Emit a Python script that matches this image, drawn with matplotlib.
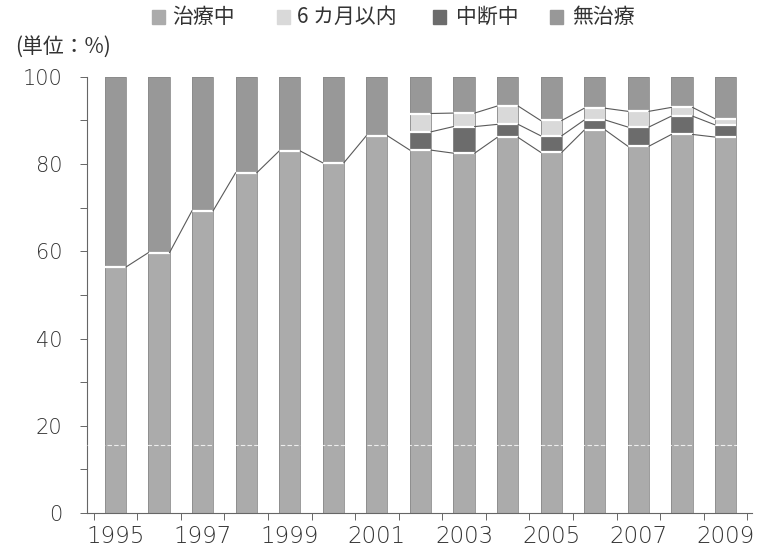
import matplotlib
matplotlib.use("Agg")
import matplotlib.pyplot as plt
from matplotlib.patches import Rectangle
import numpy as np

plt.rcParams['font.family'] = ['Noto Sans CJK JP', 'DejaVu Sans']

years = list(range(1995, 2010))
treating = [56.4, 59.7, 69.3, 78.0, 83.0, 80.3, 86.5, 83.2, 82.5, 86.1, 82.7, 87.8, 84.1, 86.8, 86.2]
interrupted = [0, 0, 0, 0, 0, 0, 0, 4.2, 6.1, 3.0, 3.8, 2.3, 4.4, 4.2, 2.8]
within_6m = [0, 0, 0, 0, 0, 0, 0, 4.2, 3.1, 4.2, 3.5, 2.7, 3.6, 2.0, 1.4]
untreated = [100 - a - b - c for a, b, c in zip(treating, interrupted, within_6m)]

legend_labels = ["治療中", "6 カ月以内", "中断中", "無治療"]
c_treat, c_6m, c_int, c_none = "#ababab", "#d9d9d9", "#6c6c6c", "#989898"
legend_colors = [c_treat, c_6m, c_int, c_none]

fig = plt.figure(figsize=(7.57, 5.57), dpi=100)
ax = fig.add_axes([0.115, 0.079, 0.878, 0.783])

x = np.arange(len(years))
w = 0.485
t = np.array(treating)
i_ = np.array(interrupted)
s = np.array(within_6m)
u = np.array(untreated)

ax.bar(x, t, w, color=c_treat, zorder=2)
ax.bar(x, i_, w, bottom=t, color=c_int, zorder=2)
ax.bar(x, s, w, bottom=t + i_, color=c_6m, zorder=2)
ax.bar(x, u, w, bottom=t + i_ + s, color=c_none, zorder=2)
# thin darker outline on bar sides
ax.bar(x, np.full(len(x), 100.0), w, fill=False, edgecolor="#8a8a8a", lw=0.6, zorder=2.5)

# white separators at segment boundaries and connector lines between bars
levels = [t, t + i_, t + i_ + s]
for k, lev in enumerate(levels):
    for j in range(len(x)):
        if k > 0 and i_[j] == 0 and s[j] == 0:
            continue
        ax.hlines(lev[j], x[j] - w / 2, x[j] + w / 2, color="white", lw=1.6, zorder=3)
    for j in range(len(x) - 1):
        if k > 0 and (i_[j] == 0 and s[j] == 0):
            continue
        ax.plot([x[j] + w / 2, x[j + 1] - w / 2], [lev[j], lev[j + 1]],
                color="#5a5a5a", lw=0.8, zorder=3)

ax.axhline(15.5, color="white", lw=0.8, ls=(0, (4, 2)), alpha=0.8, zorder=3)

ax.set_xlim(-0.65, 14.6)
ax.set_ylim(0, 100)
ax.set_yticks(range(0, 101, 20))
ax.set_yticks(range(10, 100, 20), minor=True)
ax.set_xticks(x[::2])
ax.set_xticklabels([str(y) for y in years[::2]])
ax.set_xticks(np.arange(-0.5, len(years), 1.0), minor=True)
ax.tick_params(axis="x", which="major", length=0, pad=9)
ax.tick_params(axis="x", which="minor", length=5, width=0.7, color="#666666")
ax.tick_params(axis="y", which="both", length=5, width=0.7, color="#666666", pad=13)
for lab in ax.get_xticklabels():
    lab.set_fontfamily("DejaVu Sans")
    lab.set_fontweight("light")
    lab.set_fontsize(16.5)
    lab.set_color("#333333")
for lab in ax.get_yticklabels():
    lab.set_fontfamily("DejaVu Sans")
    lab.set_fontweight("light")
    lab.set_fontsize(15)
    lab.set_color("#333333")
for side in ["top", "right"]:
    ax.spines[side].set_visible(False)
for side in ["left", "bottom"]:
    ax.spines[side].set_color("#666666")
    ax.spines[side].set_linewidth(0.8)

fig.text(15 / 757, 1 - 47 / 557, "(単位：%)", fontsize=15, color="#333333", va="center")

# legend row along the top
sw_x = [152, 277, 433, 550]
tx_x = [172, 297, 456, 572]
for lab, col, sx, tx in zip(legend_labels, legend_colors, sw_x, tx_x):
    fig.patches.append(Rectangle((sx / 757, 1 - 24 / 557), 13 / 757, 14 / 557,
                                 transform=fig.transFigure, color=col))
    fig.text(tx / 757, 1 - 17 / 557, lab, fontsize=15, color="#333333", va="center")

fig.savefig("out.png", dpi=100)
